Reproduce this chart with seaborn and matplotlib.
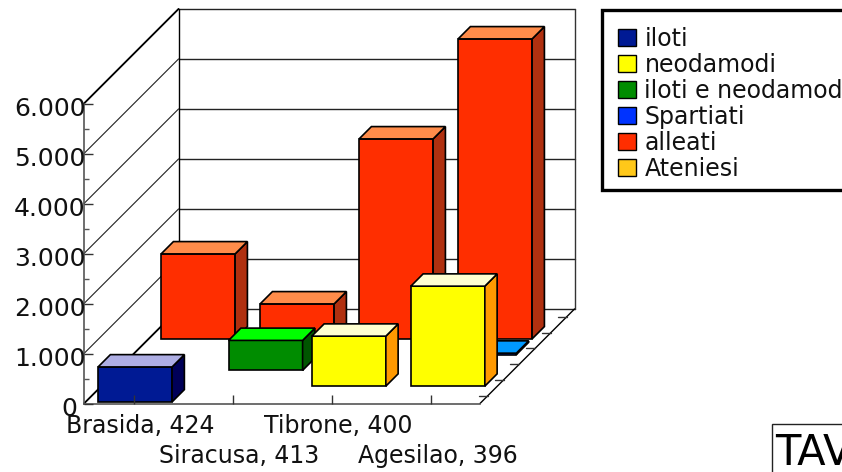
import numpy as np
import pandas as pd
import matplotlib
matplotlib.use("Agg")
import matplotlib.pyplot as plt
import seaborn as sns
from matplotlib.patches import Patch, Polygon, Rectangle
from matplotlib.transforms import Affine2D, ScaledTranslation

campaigns = ["Brasida, 424", "Siracusa, 413", "Tibrone, 400", "Agesilao, 396"]
series_names = ["iloti", "neodamodi", "iloti e neodamodi", "Spartiati", "alleati", "Ateniesi"]
iloti = [700, np.nan, np.nan, np.nan]
neodamodi = [np.nan, np.nan, 1000, 2000]
iloti_neodamodi = [np.nan, 600, np.nan, np.nan]
spartiati = [np.nan, np.nan, np.nan, 30]
alleati = [1700, 700, 4000, 6000]
ateniesi = [np.nan, np.nan, np.nan, np.nan]
value_ticks = [0, 1000, 2000, 3000, 4000, 5000, 6000]
value_labels = ["0 ", "1.000", "2.000", "3.000", "4.000", "5.000", "6.000"]
minor_ticks = [500, 1500, 2500, 3500, 4500, 5500]

series_values = [iloti, neodamodi, iloti_neodamodi, spartiati, alleati, ateniesi]
front_colors = ["#001a94", "#ffff00", "#008c00", "#0033ff", "#ff2e00", "#ffc819"]
top_colors = ["#aeaee4", "#ffffd0", "#00ff00", "#0099ff", "#ff8c4a", "#ffe080"]
side_colors = ["#000058", "#ff9900", "#005500", "#000058", "#b03010", "#b08000"]

# figure is 842x472, one category is 99 px and 1000 units are 50 px
PX_X = 1 / 99
PX_Y = 20
WIDTH = 74 * PX_X
DEPTH_STEP = 15.76
BAR_DEPTH = 12.3
N_DEPTH = 6
centers = np.arange(len(campaigns)) + 0.5

sns.set_style("white")
plt.rcParams["font.family"] = ["DejaVu Sans"]
FONT = 17

fig = plt.figure(figsize=(8.42, 4.72), dpi=100)
ax = fig.add_axes([0, 0, 1, 1])


def depth_xy(depth):
    return depth * DEPTH_STEP * PX_X, depth * DEPTH_STEP * PX_Y


# walls and floor
back_x, back_y = depth_xy(N_DEPTH)
right = len(campaigns)
for v in value_ticks:
    ax.plot([0, back_x], [v, v + back_y], color="#222222", lw=0.8, zorder=0.5)
    ax.plot([back_x, right + back_x], [v + back_y] * 2, color="#222222", lw=1, zorder=0.5)
ax.plot([0, back_x], [6000, 6000 + back_y], color="black", lw=1.3, zorder=0.6)
ax.plot([0, back_x], [0, back_y], color="black", lw=1.3, zorder=0.6)
ax.plot([back_x, back_x], [back_y, 6000 + back_y], color="black", lw=1, zorder=0.6)
ax.plot([right + back_x] * 2, [back_y, 6000 + back_y], color="#333333", lw=1, zorder=0.6)
ax.plot([right, right + back_x], [0, back_y], color="black", lw=1, zorder=2.4)
for d in range(N_DEPTH):
    dx, dy = depth_xy(d + 0.5)
    ax.plot([right + dx - 9 * PX_X, right + dx], [dy, dy], color="#333333", lw=1, zorder=2.4)

# bars from the back row to the front one
for i in range(N_DEPTH - 1, -1, -1):
    values = series_values[i]
    if np.all(np.isnan(values)):
        continue
    z = 1 + (N_DEPTH - i) * 0.1
    shift_x, shift_y = depth_xy(i + 0.1)
    shift = Affine2D().translate(shift_x, shift_y) + ax.transData
    df = pd.DataFrame({"x": centers, "y": values})
    sns.barplot(data=df, x="x", y="y", native_scale=True, width=WIDTH, color=front_colors[i],
                saturation=1, errorbar=None, edgecolor="black", linewidth=1.2,
                transform=shift, zorder=z, ax=ax)
    bx, by = BAR_DEPTH * PX_X, BAR_DEPTH * PX_Y
    for c, v in zip(centers, values):
        if np.isnan(v):
            continue
        l, r = c - WIDTH / 2, c + WIDTH / 2
        ax.add_patch(Polygon([(r, 0), (r, v), (r + bx, v + by), (r + bx, by)], closed=True,
                             facecolor=side_colors[i], edgecolor="black", lw=1.2,
                             transform=shift, zorder=z))
        ax.add_patch(Polygon([(l, v), (r, v), (r + bx, v + by), (l + bx, v + by)], closed=True,
                             facecolor=top_colors[i], edgecolor="black", lw=1.2,
                             transform=shift, zorder=z))

ax.set_xlim(-84 * PX_X, (842 - 84) * PX_X)
ax.set_ylim(-(472 - 403.5) * PX_Y, 403.5 * PX_Y)
ax.set(xlabel="", ylabel="")
ax.set_axisbelow(False)

for side in ["top", "right"]:
    ax.spines[side].set_visible(False)
ax.spines["left"].set_position(("data", 0))
ax.spines["bottom"].set_position(("data", 0))
ax.spines["left"].set_bounds(0, 6000)
ax.spines["bottom"].set_bounds(0, right)
ax.spines["left"].set_color("#555555")
ax.spines["bottom"].set_color("#555555")
ax.spines["left"].set_linewidth(1.2)
ax.spines["bottom"].set_linewidth(1.2)

ax.set_yticks(value_ticks)
ax.set_yticklabels(value_labels, fontsize=18, color="#111111")
ax.set_yticks(minor_ticks, minor=True)
ax.set_xticks(centers)
ax.set_xticklabels(campaigns, fontsize=FONT, color="#111111")
ax.tick_params(axis="both", which="major", direction="in", length=6.5, width=1, color="#333333",
               left=True, bottom=True)
ax.tick_params(axis="y", which="major", pad=-1)
ax.tick_params(axis="y", which="minor", direction="in", length=3.5, width=1, color="#555555", left=True)

# two staggered rows of labels, a little right of their ticks
for k, tick in enumerate(ax.xaxis.get_major_ticks()):
    tick.set_pad(7.5 if k % 2 == 0 else 29.5)
label_shift = ScaledTranslation(7 / 100, 0, fig.dpi_scale_trans)
for lab in ax.get_xticklabels():
    lab.set_transform(lab.get_transform() + label_shift)
down_shift = ScaledTranslation(0, -3 / 100, fig.dpi_scale_trans)
for lab in ax.get_yticklabels():
    lab.set_transform(lab.get_transform() + down_shift)

# legend box runs off the right edge, so it is drawn on its own
ax.add_patch(Rectangle((601.5 / 842, 1 - 190 / 472), 0.4, 180 / 472, transform=fig.transFigure,
                       facecolor="white", edgecolor="black", lw=2.4, zorder=3, clip_on=False))
handles = [Patch(facecolor=c, edgecolor="black", lw=1) for c in front_colors]
leg = ax.legend(handles, series_names, loc="upper left", bbox_to_anchor=(601.5 / 842, 1 - 10 / 472),
                bbox_transform=fig.transFigure, borderaxespad=0, fontsize=FONT, frameon=False,
                handlelength=0.77, handleheight=0.77,
                handletextpad=0.35, labelspacing=0.085, borderpad=0.7)
leg.set_zorder(4)
for t in leg.get_texts():
    t.set_color("#111111")

fig.add_artist(Rectangle((772 / 842, -0.05), 0.2, 0.05 + 1 - 424 / 472, transform=fig.transFigure,
                         fill=False, edgecolor="#222222", lw=1))
fig.text(775 / 842, 1 - 465 / 472, "TAV", fontsize=30, va="baseline", color="black")

fig.savefig("out.png", dpi=100)
